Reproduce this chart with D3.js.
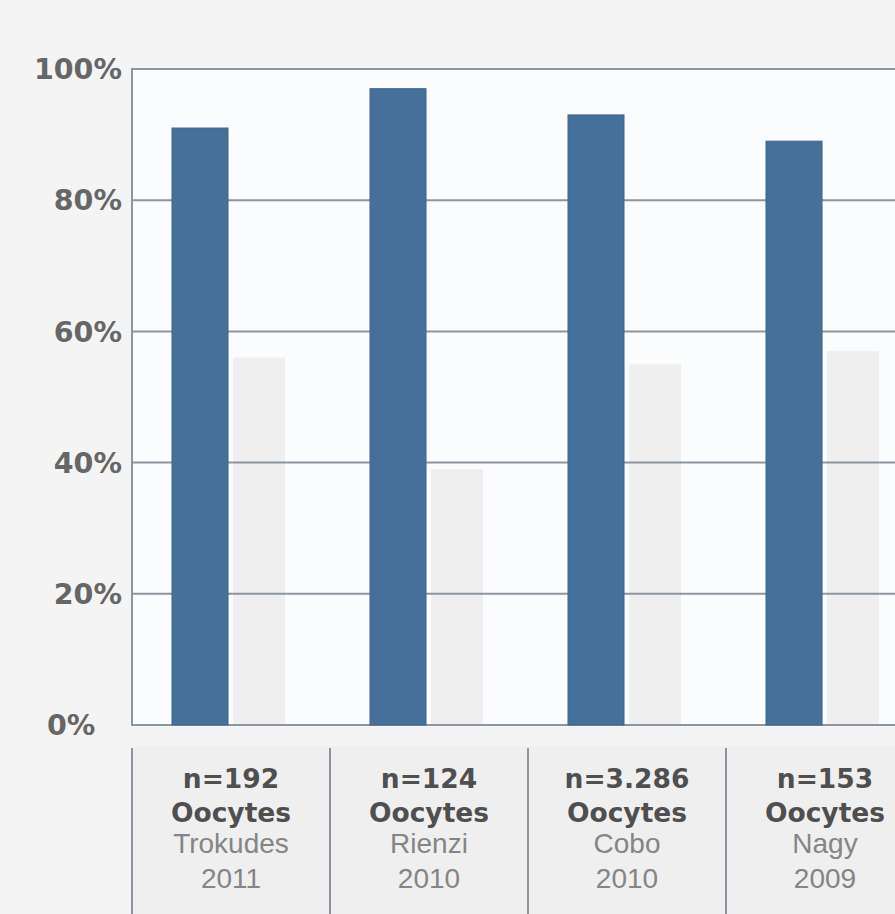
<!DOCTYPE html>
<html>
<head>
<meta charset="utf-8">
<script src="https://cdn.jsdelivr.net/npm/d3@7"></script>
<style>
  html, body { margin: 0; padding: 0; background: #f4f4f4; }
  svg { display: block; }
</style>
</head>
<body>
<div id="chart"></div>
<script>
// ---------- Data ----------
const studies = ["Trokudes 2011", "Rienzi 2010", "Cobo 2010", "Nagy 2009"];
const nLabels = ["n=192", "n=124", "n=3.286", "n=153"];
const unitLabels = ["Oocytes", "Oocytes", "Oocytes", "Oocytes"];
const authors = ["Trokudes", "Rienzi", "Cobo", "Nagy"];
const years = ["2011", "2010", "2010", "2009"];
const survival = [91, 97, 93, 89];      // blue bars
const ghostValues = [56, 39, 55, 57];   // faint grey bars
const yTicks = [0, 20, 40, 60, 80, 100];

// ---------- Layout ----------
const width = 895, height = 914;
const margin = {top: 69, left: 132, bottom: 725};
const step = 198;

const svg = d3.select("#chart").append("svg")
  .attr("width", width)
  .attr("height", height);

svg.append("rect")
  .attr("width", width).attr("height", height)
  .attr("fill", "#f4f4f4");

const x = d3.scaleBand()
  .domain(studies)
  .range([margin.left, margin.left + step * studies.length])
  .padding(0);

const y = d3.scaleLinear()
  .domain([0, 100])
  .range([margin.bottom, margin.top]);

// plot background
svg.append("rect")
  .attr("x", margin.left).attr("y", y(100))
  .attr("width", width - margin.left).attr("height", y(0) - y(100))
  .attr("fill", "#fbfcfd");

// ---------- Bars ----------
svg.append("g")
  .selectAll("rect")
  .data(ghostValues)
  .join("rect")
  .attr("x", (d, i) => x(studies[i]) + 101)
  .attr("y", d => y(d))
  .attr("width", 52)
  .attr("height", d => y(0) - y(d))
  .attr("fill", "#efefef");

// gridlines
svg.append("g")
  .selectAll("line")
  .data(yTicks)
  .join("line")
  .attr("x1", margin.left).attr("x2", width)
  .attr("y1", d => y(d)).attr("y2", d => y(d))
  .attr("stroke", "#8c96a0")
  .attr("stroke-width", 2);

// left axis line
svg.append("line")
  .attr("x1", margin.left).attr("x2", margin.left)
  .attr("y1", y(100) - 1).attr("y2", y(0) + 1)
  .attr("stroke", "#8c96a0")
  .attr("stroke-width", 2);

svg.append("g")
  .selectAll("rect")
  .data(survival)
  .join("rect")
  .attr("x", (d, i) => x(studies[i]) + 40)
  .attr("y", d => y(d))
  .attr("width", 56)
  .attr("height", d => y(0) - y(d))
  .attr("fill", "#46709a")
  .attr("stroke", "#3f6589")
  .attr("stroke-width", 1);

// tick labels
svg.append("g")
  .selectAll("text")
  .data(yTicks)
  .join("text")
  .attr("x", d => d === 0 ? 47 : 122)
  .attr("y", d => y(d))
  .attr("dy", "0.36em")
  .attr("text-anchor", d => d === 0 ? "start" : "end")
  .attr("font-family", "'DejaVu Sans', sans-serif")
  .attr("font-weight", "bold")
  .attr("font-size", 28.5)
  .attr("fill", "#666")
  .text(d => d + "%");

// ---------- Label cells ----------
const cells = svg.append("g")
  .selectAll("g")
  .data(studies)
  .join("g")
  .attr("transform", d => `translate(${x(d)},0)`);

cells.append("rect")
  .attr("x", 0).attr("y", 746)
  .attr("width", x.bandwidth()).attr("height", height - 746)
  .attr("fill", "#efefef");

cells.append("line")
  .attr("x1", 0).attr("x2", 0)
  .attr("y1", 748).attr("y2", height)
  .attr("stroke", "#8c96a0")
  .attr("stroke-width", 2);

const cx = x.bandwidth() / 2;

cells.append("text")
  .attr("x", cx).attr("y", 788)
  .attr("text-anchor", "middle")
  .attr("font-family", "'DejaVu Sans', sans-serif")
  .attr("font-weight", "bold")
  .attr("font-size", 26.5)
  .attr("fill", "#4f4f4f")
  .text((d, i) => nLabels[i]);

cells.append("text")
  .attr("x", cx).attr("y", 822)
  .attr("text-anchor", "middle")
  .attr("font-family", "'DejaVu Sans', sans-serif")
  .attr("font-weight", "bold")
  .attr("font-size", 26.5)
  .attr("fill", "#4f4f4f")
  .text((d, i) => unitLabels[i]);

cells.append("text")
  .attr("x", cx).attr("y", 853)
  .attr("text-anchor", "middle")
  .attr("font-family", "'Liberation Sans', Arial, sans-serif")
  .attr("font-size", 28)
  .attr("fill", "#858585")
  .text((d, i) => authors[i]);

cells.append("text")
  .attr("x", cx).attr("y", 888)
  .attr("text-anchor", "middle")
  .attr("font-family", "'Liberation Sans', Arial, sans-serif")
  .attr("font-size", 28)
  .attr("fill", "#858585")
  .text((d, i) => years[i]);
</script>
</body>
</html>
